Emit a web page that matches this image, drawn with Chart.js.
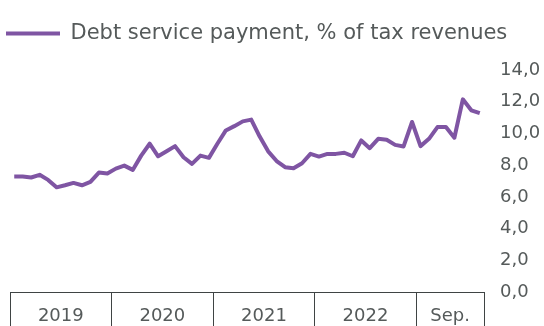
<!DOCTYPE html>
<html>
  <head>
    <title>Debt service payment</title>
    <script src="https://cdn.jsdelivr.net/npm/chart.js"></script>
    <style>
      html,
      body {
        margin: 0;
        padding: 0;
        background: #fff;
      }

      .chart-box {
        width: 544px;
        height: 326px;
        position: relative;
      }
    </style>
  </head>
  <body>
    <div class="chart-box">
      <canvas id="debtChart"></canvas>
    </div>
    <script>
      const months = [
        "2019-01", "2019-02", "2019-03", "2019-04", "2019-05", "2019-06",
        "2019-07", "2019-08", "2019-09", "2019-10", "2019-11", "2019-12",
        "2020-01", "2020-02", "2020-03", "2020-04", "2020-05", "2020-06",
        "2020-07", "2020-08", "2020-09", "2020-10", "2020-11", "2020-12",
        "2021-01", "2021-02", "2021-03", "2021-04", "2021-05", "2021-06",
        "2021-07", "2021-08", "2021-09", "2021-10", "2021-11", "2021-12",
        "2022-01", "2022-02", "2022-03", "2022-04", "2022-05", "2022-06",
        "2022-07", "2022-08", "2022-09", "2022-10", "2022-11", "2022-12",
        "2023-01", "2023-02", "2023-03", "2023-04", "2023-05", "2023-06",
        "2023-07", "2023-08",
      ];
      const debtService = [
        7.28, 7.28, 7.22, 7.39, 7.07, 6.6, 6.73, 6.88, 6.73, 6.94, 7.53, 7.47,
        7.78, 7.97, 7.7, 8.6, 9.35, 8.56, 8.88, 9.2, 8.5, 8.08, 8.6, 8.46,
        9.35, 10.19, 10.46, 10.76, 10.87, 9.8, 8.87, 8.26, 7.87, 7.8, 8.12, 8.71,
        8.54, 8.71, 8.71, 8.78, 8.56, 9.56, 9.07, 9.66, 9.6, 9.28, 9.18, 10.72,
        9.2, 9.66, 10.4, 10.4, 9.73, 12.15, 11.46, 11.28,
      ];
      const periodKeys = ["2019", "2020", "2021", "2022", "2023"];
      const periodLabels = ["2019", "2020", "2021", "2022", "Sep."];

      const textColor = "#555a5a";
      const axisColor = "#3f4444";
      const lineColor = "#7f55a3";
      const fontFamily = "'DejaVu Sans', sans-serif";

      function periodOf(i) {
        return months[i].slice(0, 4);
      }

      // extra room between the legend and the plot
      const legendGap = {
        id: "legendGap",
        beforeInit(chart) {
          const fit = chart.legend.fit;
          chart.legend.fit = function () {
            fit.call(this);
            this.height += 16;
          };
        },
      };

      // year names centred under each group of months
      const periodText = {
        id: "periodText",
        afterDraw(chart) {
          const scale = chart.scales.x;
          const ctx = chart.ctx;
          ctx.save();
          ctx.font = "18px " + fontFamily;
          ctx.fillStyle = textColor;
          ctx.textAlign = "center";
          ctx.textBaseline = "middle";
          periodKeys.forEach(function (key, k) {
            const first = months.findIndex(function (m) {
              return m.startsWith(key);
            });
            let last = first;
            while (last + 1 < months.length && periodOf(last + 1) === key) {
              last++;
            }
            const px =
              (scale.getPixelForValue(first) + scale.getPixelForValue(last)) / 2;
            ctx.fillText(periodLabels[k], px, scale.top + 24);
          });
          ctx.restore();
        },
      };

      const data = {
        labels: months,
        datasets: [
          {
            label: "Debt service payment, % of tax revenues",
            data: debtService,
            borderColor: lineColor,
            backgroundColor: lineColor,
            borderWidth: 4,
            borderJoinStyle: "round",
            pointRadius: 0,
            tension: 0,
          },
        ],
      };

      const config = {
        type: "line",
        data: data,
        plugins: [legendGap, periodText],
        options: {
          responsive: true,
          maintainAspectRatio: false,
          animation: false,
          devicePixelRatio: 1,
          layout: {
            padding: { top: 17, right: 0, bottom: 0, left: 0 },
          },
          plugins: {
            legend: {
              align: "start",
              labels: {
                usePointStyle: true,
                pointStyle: "line",
                pointStyleWidth: 54,
                padding: 6,
                color: textColor,
                font: { family: fontFamily, size: 21 },
              },
            },
            tooltip: { enabled: false },
          },
          scales: {
            x: {
              offset: true,
              grid: {
                offset: true,
                drawOnChartArea: false,
                tickLength: 34,
                lineWidth: 1,
                color: function (ctx) {
                  if (ctx.index === undefined || ctx.index === 0) {
                    return axisColor;
                  }
                  return periodOf(ctx.index) !== periodOf(ctx.index - 1)
                    ? axisColor
                    : "rgba(0,0,0,0)";
                },
              },
              border: { display: true, color: axisColor, width: 1 },
              ticks: {
                display: false,
                autoSkip: false,
              },
            },
            y: {
              position: "right",
              min: 0,
              max: 14,
              grid: { display: false, drawTicks: false },
              border: { display: false },
              ticks: {
                stepSize: 2,
                padding: 16,
                color: textColor,
                font: { family: fontFamily, size: 18 },
                callback: function (value) {
                  return value.toFixed(1).replace(".", ",");
                },
              },
              afterFit: function (scale) {
                scale.width = 60;
              },
            },
            yLeft: {
              type: "linear",
              position: "left",
              grid: { display: false, drawTicks: false },
              border: { display: false },
              ticks: { display: false },
              afterFit: function (scale) {
                scale.width = 10;
              },
            },
          },
        },
      };

      new Chart(document.getElementById("debtChart"), config);
    </script>
  </body>
</html>
